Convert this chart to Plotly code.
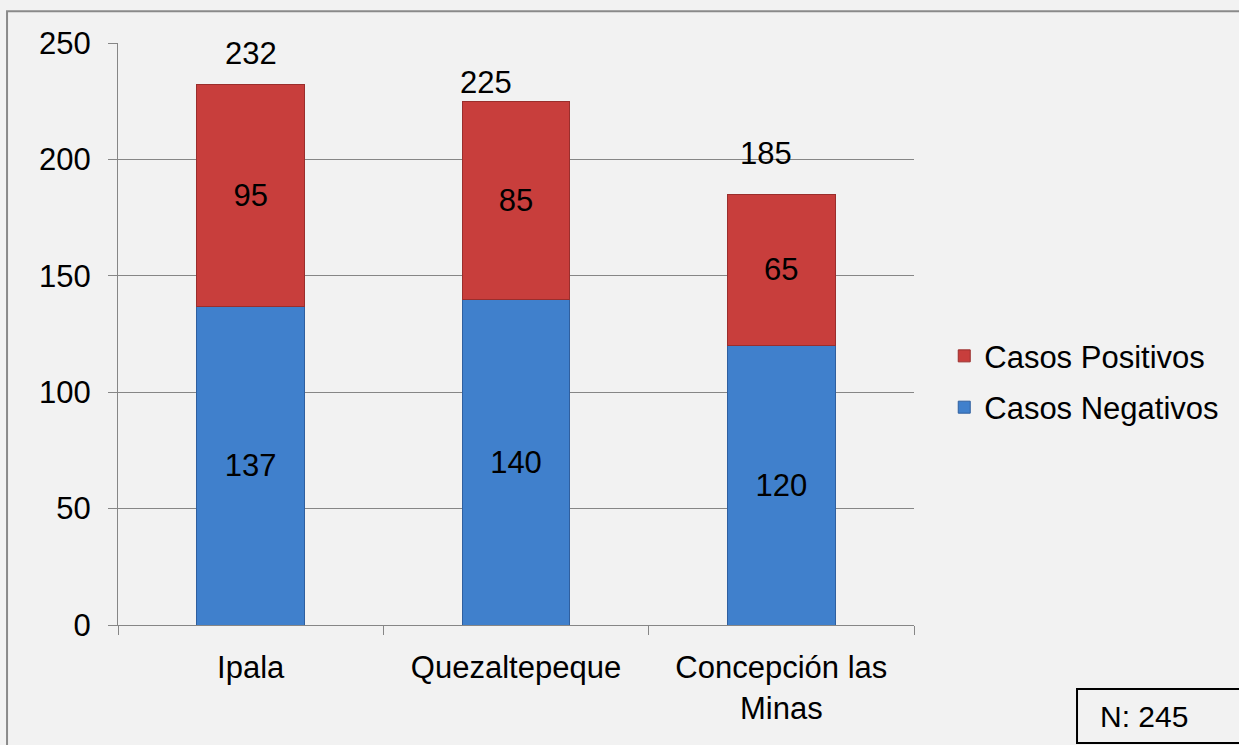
import plotly.graph_objects as go

categories = ["Ipala", "Quezaltepeque", "Concepción las<br>Minas"]
negativos = [137, 140, 120]
positivos = [95, 85, 65]
totals = [232, 225, 185]
y_ticks = [0, 50, 100, 150, 200, 250]
note_text = "N: 245"

FONT = "Liberation Sans, Arial, sans-serif"
FS = 31

fig = go.Figure()
fig.add_trace(go.Bar(
    x=categories, y=negativos, name="Casos Negativos", legendgroup="neg", legendrank=2,
    marker=dict(color="#4080cc", line=dict(color="#2f5f9f", width=1)),
    text=[str(v) for v in negativos], textposition="inside",
    insidetextanchor="middle", textfont=dict(family=FONT, size=FS, color="black"),
    width=0.405,
))
fig.add_trace(go.Bar(
    x=categories, y=positivos, name="Casos Positivos", legendgroup="pos", legendrank=1,
    marker=dict(color="#c83e3c", line=dict(color="#9a2e2c", width=1)),
    text=[str(v) for v in positivos], textposition="inside",
    insidetextanchor="middle", textfont=dict(family=FONT, size=FS, color="black"),
    width=0.405,
))

# total labels above bars (offsets as in the original)
x_shift = [0, -30, -15]
y_shift = [31, 19, 41]
for c, t, xs, ys in zip(categories, totals, x_shift, y_shift):
    fig.add_annotation(x=c, y=t, text=str(t), showarrow=False, xshift=xs, yshift=ys,
                       yanchor="middle", font=dict(family=FONT, size=FS, color="black"))

# N box
fig.add_shape(type="rect", xref="paper", yref="paper", x0=1.2048, x1=1.45, y0=-0.2027, y1=-0.110,
              line=dict(color="black", width=2), fillcolor="rgba(0,0,0,0)")
fig.add_annotation(xref="paper", yref="paper", x=1.289, y=-0.157, text=note_text, showarrow=False,
                   xanchor="center", yanchor="middle",
                   font=dict(family=FONT, size=FS - 1, color="black"))

# outer chart border
fig.add_shape(type="rect", xref="paper", yref="paper", x0=-0.1394, x1=1.45, y0=-0.3, y1=1.0545,
              line=dict(color="#8a8a8a", width=2), fillcolor="rgba(0,0,0,0)", layer="below")

fig.update_layout(
    width=1239, height=745,
    margin=dict(l=118, r=325, t=43, b=120),
    barmode="stack",
    paper_bgcolor="#f2f2f2", plot_bgcolor="#f2f2f2",
    font=dict(family=FONT, size=FS, color="black"),
    showlegend=True,
    legend=dict(x=1.038, y=0.418, xanchor="left", yanchor="middle", traceorder="grouped",
                font=dict(family=FONT, size=FS, color="black"), bgcolor="rgba(0,0,0,0)",
                itemwidth=30, tracegroupgap=8),
    bargap=0.6,
)
fig.update_yaxes(range=[0, 250], tickvals=y_ticks, showgrid=True, gridcolor="#868686", gridwidth=1,
                 showline=True, linecolor="#868686", linewidth=1, ticks="outside", ticklen=9,
                 tickcolor="#868686", ticklabelstandoff=11, zeroline=False)
fig.update_xaxes(showline=True, linecolor="#868686", linewidth=1, ticks="outside", ticklen=9,
                 tickcolor="#868686", tickson="boundaries", ticklabelstandoff=15)

fig.write_html("out.html", config={"displayModeBar": False},
               post_script="document.body.style.margin='0px';document.body.style.overflow='hidden';")
